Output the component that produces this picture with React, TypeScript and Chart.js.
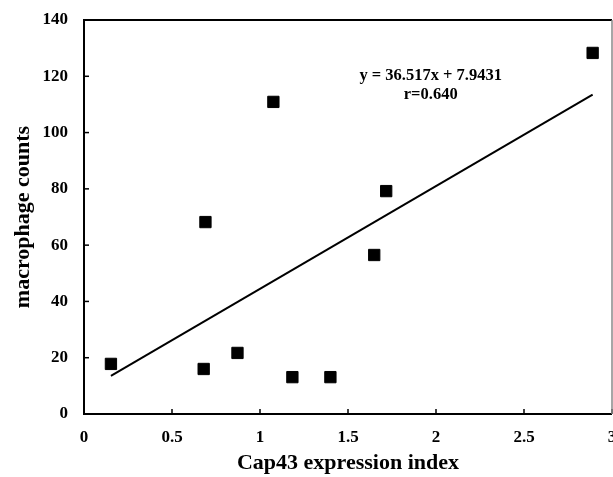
import React, { useEffect, useRef } from "react";
import { Chart, registerables } from "chart.js";

Chart.register(...registerables);

const capIndex = [0.153, 0.68, 0.69, 0.872, 1.076, 1.184, 1.40, 1.649, 1.717, 2.89];
const macrophageCounts = [17.8, 16.0, 68.2, 21.7, 110.9, 13.1, 13.1, 56.5, 79.2, 128.3];
const slope = 36.517;
const intercept = 7.9431;
const trendX = [0.153, 2.89];
const trendY = trendX.map((x) => slope * x + intercept);
const equationLabel = "y = 36.517x + 7.9431";
const rLabel = "r=0.640";
const xTitle = "Cap43 expression index";
const yTitle = "macrophage counts";

const FONT = "'Liberation Serif', 'Times New Roman', serif";

const framePlugin = {
  id: "frame",
  afterDatasetsDraw(chart: any) {
    const { ctx, chartArea: a, scales } = chart;
    const xs = scales.x;
    const ys = scales.y;
    ctx.save();
    ctx.strokeStyle = "#000";
    ctx.lineWidth = 1.5;
    xs.ticks.forEach((t: any) => {
      const px = xs.getPixelForValue(t.value);
      ctx.beginPath();
      ctx.moveTo(px, a.bottom);
      ctx.lineTo(px, a.bottom - 5);
      ctx.stroke();
    });
    ys.ticks.forEach((t: any) => {
      const py = ys.getPixelForValue(t.value);
      ctx.beginPath();
      ctx.moveTo(a.left, py);
      ctx.lineTo(a.left + 5, py);
      ctx.stroke();
    });
    ctx.lineWidth = 2;
    ctx.beginPath();
    ctx.moveTo(a.right, a.top);
    ctx.lineTo(a.left, a.top);
    ctx.lineTo(a.left, a.bottom);
    ctx.lineTo(a.right, a.bottom);
    ctx.stroke();
    ctx.strokeStyle = "#888";
    ctx.lineWidth = 1.5;
    ctx.beginPath();
    ctx.moveTo(a.right, a.top);
    ctx.lineTo(a.right, a.bottom);
    ctx.stroke();
    ctx.fillStyle = "#000";
    ctx.font = `bold 16.5px ${FONT}`;
    ctx.textAlign = "center";
    ctx.textBaseline = "middle";
    const cx = xs.getPixelForValue(1.97);
    ctx.fillText(equationLabel, cx, ys.getPixelForValue(120.1));
    ctx.fillText(rLabel, cx, ys.getPixelForValue(113.6));
    ctx.restore();
  },
};

export default function App() {
  const ref = useRef<HTMLCanvasElement>(null);
  useEffect(() => {
    if (!ref.current) return;
    const chart = new Chart(ref.current, {
      type: "scatter",
      data: {
        datasets: [
          {
            type: "line",
            data: trendX.map((x, i) => ({ x, y: trendY[i] })),
            borderColor: "#000",
            borderWidth: 2,
            pointRadius: 0,
            fill: false,
          } as any,
          {
            data: capIndex.map((x, i) => ({ x, y: macrophageCounts[i] })),
            pointStyle: "rect",
            pointRadius: 8,
            backgroundColor: "#000",
            borderColor: "#000",
            borderWidth: 1,
          },
        ],
      },
      options: {
        animation: false,
        responsive: false,
        layout: { padding: { left: 10, top: 20, right: 28, bottom: 0 } },
        plugins: { legend: { display: false }, tooltip: { enabled: false } },
        scales: {
          x: {
            type: "linear",
            min: 0,
            max: 3,
            border: { display: false },
            grid: { display: false, drawTicks: false },
            ticks: {
              stepSize: 0.5,
              padding: 13,
              color: "#000",
              font: { family: FONT, size: 17, weight: "bold" },
              callback: (v: any) => String(v),
            },
            title: {
              display: true,
              text: xTitle,
              color: "#000",
              padding: { top: 0, bottom: 0 },
              font: { family: FONT, size: 22, weight: "bold" },
            },
            afterFit: (s: any) => {
              s.height = 63;
              s.paddingLeft = 0;
              s.paddingRight = 0;
            },
          },
          y: {
            min: 0,
            max: 140,
            border: { display: false },
            grid: { display: false, drawTicks: false },
            ticks: {
              stepSize: 20,
              padding: 16,
              color: "#000",
              font: { family: FONT, size: 17, weight: "bold" },
            },
            title: {
              display: true,
              text: yTitle,
              color: "#000",
              padding: { top: 0, bottom: 0 },
              font: { family: FONT, size: 22, weight: "bold" },
            },
            afterFit: (s: any) => {
              s.width = 74;
              s.paddingTop = 0;
              s.paddingBottom = 0;
            },
          },
        },
      },
      plugins: [framePlugin],
    });
    return () => chart.destroy();
  }, []);
  return (
    <div
      style={{
        position: "fixed",
        left: 0,
        top: 0,
        width: 613,
        height: 477,
        overflow: "hidden",
        background: "#fff",
      }}
    >
      <canvas ref={ref} width={640} height={477} style={{ display: "block" }} />
    </div>
  );
}
